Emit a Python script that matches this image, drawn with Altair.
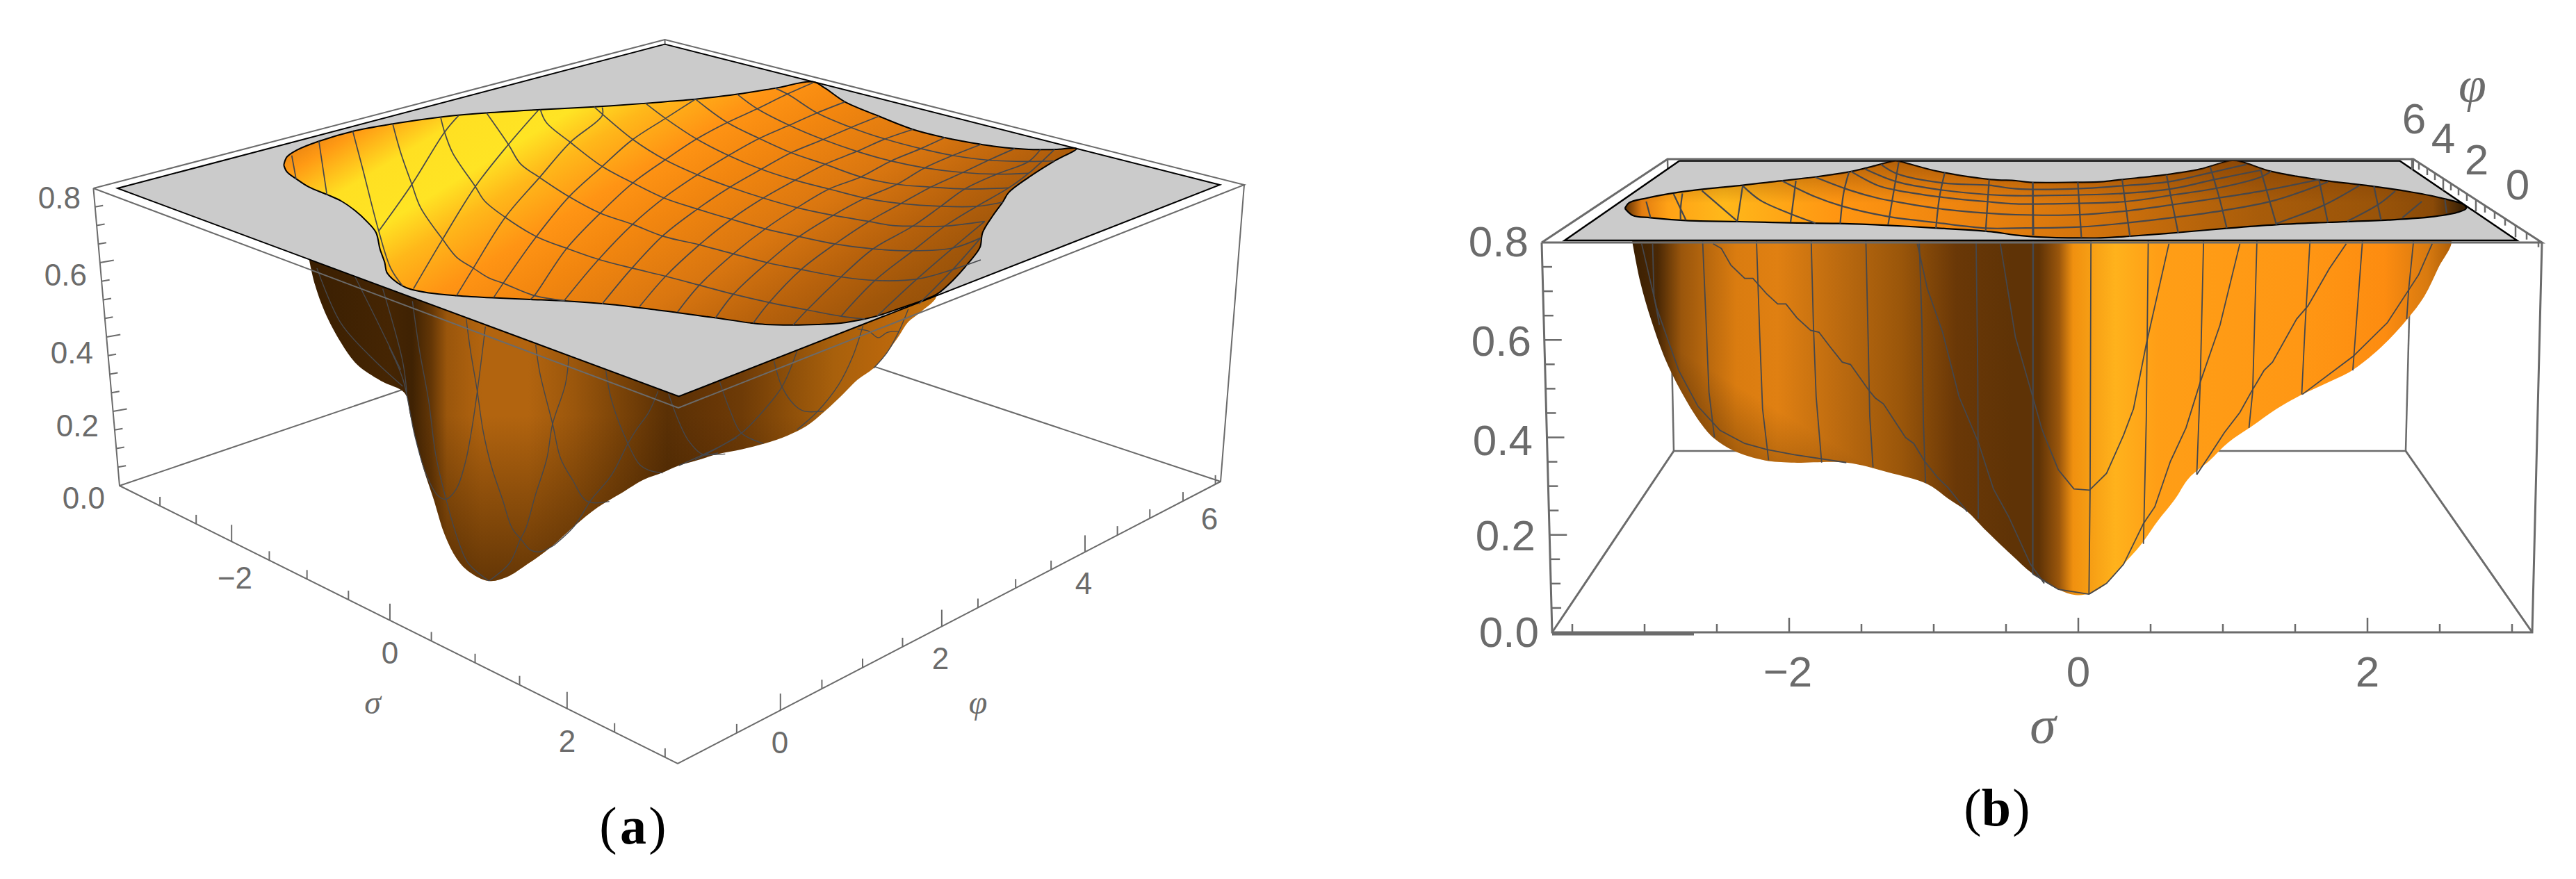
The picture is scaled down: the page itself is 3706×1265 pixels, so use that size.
import altair as alt
import pandas as pd

# crops in which the positions were read: (left, top, x-zoom, y-zoom)
def crop(x0, y0, kx, ky):
    return lambda pts: [(x0 + p[0] / kx, y0 + p[1] / ky) for p in pts]

A1 = crop(100, 30, 1.742, 2.529)
A2 = crop(900, 30, 1.742, 2.529)
C1 = crop(560, 420, 3, 3)
C2 = crop(1000, 370, 3, 3)
B4 = crop(2150, 130, 1.96, 3)
B5 = crop(2900, 130, 1.96, 3)
C3 = crop(2340, 330, 2.529, 2.904)
C4 = crop(2900, 330, 2.45, 2.904)

# ------------------------------ panel (a)
A_TOP = dict(back=(956.5, 57), left=(134.4, 271), right=(1790, 266), front=(976, 587))
A_BOT = dict(back=(964, 430), left=(172, 699), right=(1756, 693), front=(975, 1099))
A_PLANE = [(956.5, 63.6), (169, 271), (976.6, 570.5), (1755, 266), (956.5, 63.6)]

A_HOLE = (A1([(537,525),(545,495),(570,470),(625,438),(710,402),(810,375),(930,350),(1045,335),(1180,323),(1315,313),(1445,300)])
    + A2([(110,293),(175,285),(280,267),(375,245),(470,222),(500,245),(550,295),(635,347),(720,395),(800,425),(845,438),(930,458),(1010,468),(1075,468),(1130,465),(1075,510),(1010,570),(960,625),(945,660),(920,710),(895,770),(888,825),(860,880),(820,945),(780,995),(745,1017),(690,1045),(640,1070),(600,1085),(540,1100),(480,1105),(420,1107),(350,1105),(315,1100),(220,1080),(130,1062),(40,1045)])
    + A1([(1340,1030),(1245,1020),(1155,1014),(1060,1008),(970,1000),(900,990),(855,977),(835,965),(810,940),(795,915),(790,880),(778,830),(768,770),(745,730),(715,690),(680,655),(645,632),(600,605),(570,577),(545,550),(537,525)]))

A_BODY = (A1([(600,865),(615,960),(640,1060),(680,1170),(720,1250),(780,1310),(840,1355)])
    + C1([(90,530),(120,660),(150,770),(190,890),(240,1050),(290,1150),(340,1205),(430,1248),(510,1230),(590,1180),(700,1100),(800,1010),(900,930),(1000,870),(1100,810),(1180,780),(1250,750)])
    + C2([(0,880),(100,850),(200,830),(300,805),(400,770),(480,730),(560,665),(640,590),(700,530),(770,480),(830,410),(880,340),(920,280),(970,240),(1040,170)])
    + [(1330, 415), (1200, 460), (976, 540), (700, 440), (500, 360), (444, 372)])

A_MESH_UPPER = [
    A1([(557,490),(568,577)]),
    A1([(625,438),(645,632)]),
    A1([(710,402),(735,540),(775,765),(805,900),(835,965)]),
    A1([(810,375),(830,480),(858,595),(880,680),(935,795),(970,860),(1012,900),(1050,935),(1087,955),(1165,1000),(1240,1018)]),
    A1([(930,350),(940,405),(960,480),(1017,603),(1040,655),(1092,715),(1170,785),(1250,830),(1330,870),(1410,900),(1495,930)]) + A2([(185,962),(270,995),(360,1025),(455,1052),(540,1075),(600,1085)]),
    A1([(1045,335),(1100,450),(1130,520),(1178,570),(1252,640),(1330,700),(1410,740),(1490,785)]) + A2([(185,815),(270,848),(355,880),(440,905),(540,932),(625,945),(730,940),(820,905),(890,870)]),
    A1([(1180,323),(1195,370),(1255,442),(1335,530),(1412,590),(1490,645)]) + A2([(180,685),(265,722),(350,757),(435,785),(525,812),(620,830),(720,837),(820,827),(890,790)]),
    A1([(1315,313),(1415,435),(1492,505)]) + A2([(180,560),(262,605),(345,645),(430,680),(520,708),(610,730),(670,745),(720,747),(800,747),(900,730)]),
    A2([(50,300),(100,355),(178,430),(258,490),(340,540),(425,580),(510,612),(600,645),(690,665),(790,675),(880,675),(945,660)]),
    A2([(175,285),(255,370),(335,428),(415,480),(500,522),(590,568),(680,595),(765,605),(850,612),(960,608)]),
    A2([(280,267),(330,320),(410,380),(495,432),(580,475),(665,510),(750,535),(845,552),(930,558),(1010,555)]),
    A2([(375,245),(410,270),(480,335),(565,388),(650,430),(740,465),(820,490),(910,507),(1010,512),(1075,510)]),
    A1([(975,345),(940,405),(858,595),(775,765)]),
    A1([(1175,325),(1100,450),(1017,603),(935,795),(862,975)]),
    A1([(1335,315),(1335,345),(1255,442),(1178,570),(1092,715),(1012,900),(970,1000)]),
    A2([(175,285),(100,355),(15,435)]) + A1([(1335,530),(1252,640),(1170,785),(1087,955),(1063,1007)]),
    A2([(470,225),(400,270),(330,320),(255,370),(178,430),(100,505),(18,590)]) + A1([(1330,700),(1245,830),(1165,1000),(1155,1014)]),
    A2([(550,295),(480,335),(410,380),(335,428),(258,490),(180,560),(100,640),(18,740)]) + A1([(1325,870),(1240,1018)]),
    A2([(635,347),(565,388),(495,432),(415,480),(340,540),(262,605),(180,685),(95,780),(16,900)]) + A1([(1335,1030)]),
    A2([(720,395),(650,430),(580,475),(500,522),(425,580),(345,645),(265,722),(185,815),(100,930),(35,1040)]),
    A2([(800,425),(740,465),(665,510),(590,568),(510,612),(430,680),(350,757),(270,848),(185,962),(130,1060)]),
    A2([(890,450),(820,490),(750,535),(680,595),(600,645),(520,708),(435,785),(355,880),(270,995),(225,1082)]),
    A2([(975,465),(910,507),(845,552),(765,605),(690,665),(610,730),(525,812),(440,905),(360,1025),(320,1100)]),
    A2([(1040,468),(1010,512),(930,558),(850,612),(790,675),(720,747),(620,830),(540,932),(455,1052),(420,1107)]),
    A2([(1075,468),(1010,555),(960,608),(880,675),(800,747),(720,837),(625,945),(540,1075)]),
    A2([(900,730),(820,827),(730,940),(630,1075)]),
    A2([(890,790),(820,905),(735,1030)]),
]
A_MESH_LOWER = [
    A1([(620,900),(680,1100),(760,1230),(835,1330)]),
    A1([(715,930),(770,1090),(830,1270)]),
    A1([(785,975),(835,1240),(845,1350)]),
    C1([(100,40),(130,250),(170,470),(200,700),(245,895),(300,1080),(340,1170),(430,1248)]),
    C1([(0,240),(60,380),(110,620),(160,790),(210,880),(245,895),(290,850),(330,730),(355,600),(380,430),(415,150)]),
    C1([(332,115),(350,250),(380,430),(405,600),(440,750),(490,900),(530,1020),(570,1070),(610,1115),(650,1122),(710,1095)]),
    C1([(632,228),(650,350),(705,570),(740,720),(790,810),(855,905),(950,905)]),
    C1([(775,282),(760,400),(705,570),(680,720),(630,880),(590,1020),(565,1070),(520,1170),(430,1248)]),
    C1([(935,340),(960,470),(1030,655),(1080,745),(1120,770),(1180,782)]),
    C1([(1160,430),(1120,520),(1070,590),(1030,655),(960,790),(870,900),(800,1010),(710,1095)]),
    C1([(1205,440),(1250,560),(1290,640),(1350,700),(1420,695)]),
    C1([(1500,630),(1350,705),(1250,750)]),
    C2([(105,535),(150,660),(200,760),(295,805)]),
    C2([(440,405),(375,560),(280,680),(200,760),(40,855),(0,875)]),
    C2([(340,445),(375,560),(430,640),(470,665),(555,665)]),
    C2([(725,295),(680,430),(620,550),(525,670),(440,745)]),
    C2([(700,310),(750,320),(790,348),(830,325),(880,320)]),
    C2([(920,225),(880,320),(830,410),(770,480)]),
    C2([(40,855),(130,850)]),
]

A_Z_VALUES = [0, .05, .1, .15, .2, .25, .3, .35, .4, .45, .5, .55, .6, .65, .7, .75, .8]
A_SIGMA_TICK_PX = [120, 168, 215, 265, 315, 370, 425, 480, 538, 597, 660, 723, 790]
A_SIGMA_MAJOR = [215, 425, 660]
A_PHI_TICK_PX = [885, 943, 998, 1052, 1105, 1157, 1205, 1255, 1302, 1347, 1390, 1433, 1477, 1520]
A_PHI_MAJOR = [943, 1157, 1347]

# ------------------------------ panel (b)
B_TOP = dict(back_l=(2399, 229), back_r=(3472, 229), front_l=(2218, 349), front_r=(3657, 349))
B_BOT = dict(back_l=(2408, 649), back_r=(3461, 649), front_l=(2233, 910), front_r=(3643, 910))
B_PLANE = [(2416, 231.5), (2251, 346), (3621, 346), (3452.5, 231.5), (2416, 231.5)]

B_HOLE = (B4([(368,510),(380,485),(430,465),(520,440),(600,425),(700,410),(800,392),(900,375),(1000,352),(1050,335),(1130,305),(1145,308),(1250,350),(1400,385)])
    + B5([(0,390),(40,397),(170,397),(240,395),(300,385),(420,365),(520,340),(610,303),(640,310),(720,350),(850,385),(1000,413),(1100,435),(1200,465),(1265,495),(1270,510),(1250,525),(1180,545),(1050,560),(880,570),(735,580),(600,595),(450,615),(320,630),(240,637),(160,637),(90,635),(0,625)])
    + B4([(1400,610),(1250,595),(1110,583),(970,575),(830,572),(690,567),(540,562),(440,550),(390,540),(368,510)]))

B_SIL_LEFT = (C3([(20,45),(50,220),(90,380),(140,540),(200,680),(270,810),(320,875),(390,925),(500,965),(600,975),(800,975),(950,1015),(1095,1065),(1170,1125),(1240,1180),(1300,1250),(1400,1360)])
    + C4([(60,1440),(150,1505)]))
B_SIL_RIGHT = C4([(210,1528),(260,1522),(320,1480),(380,1400),(440,1320),(500,1220),(560,1130),(610,1040),(680,970),(750,890),(830,825),(920,750),(1010,690),(1100,640),(1185,590),(1290,490),(1380,375),(1440,280),(1490,160),(1535,45)])
B_BODY = B_SIL_LEFT + B_SIL_RIGHT + [(3500, 330), (2900, 330), (2360, 330), B_SIL_LEFT[0]]

B_MESH_UPPER = [
    B4([(428,480),(440,550)]), B4([(530,445),(525,510),(525,560)]), B4([(505,447),(540,560)]),
    B4([(585,433),(685,565)]), B4([(700,412),(685,565)]), B4([(850,390),(835,570)]),
    B4([(1000,352),(985,440),(975,575)]), B4([(1140,310),(1130,400),(1110,580)]),
    B4([(1270,355),(1255,460),(1245,595)]), B4([(1395,385),(1385,610)]), B4([(1518,398),(1518,625)]),
    B5([(48,397),(50,625)]), B5([(175,397),(185,635)]), B5([(300,385),(322,632)]), B5([(425,365),(458,615)]),
    B5([(548,330),(575,470),(595,595)]), B5([(690,340),(735,580)]), B5([(855,385),(880,570)]),
    B5([(1010,415),(1030,560)]), B5([(1210,470),(1215,530)]),
    B4([(700,412),(750,475),(830,530),(905,573)]),
    B4([(810,390),(905,460),(980,500),(1110,545),(1240,570),(1385,595)]) + B5([(0,595),(180,590),(315,572),(450,548),(580,520),(730,475),(880,395)]),
    B4([(905,375),(1000,430),(1080,465),(1130,480),(1250,510),(1385,530)]) + B5([(0,537),(180,537),(315,520),(450,492),(570,465),(710,430),(855,385)]),
    B4([(1005,350),(1080,410),(1130,430),(1255,460),(1385,480)]) + B5([(0,490),(100,490),(310,480),(450,450),(575,420),(690,375),(720,350)]),
    B4([(1045,340),(1135,395),(1260,430),(1390,450)]) + B5([(0,455),(50,455),(300,445),(440,425),(560,385),(690,345)]),
    B4([(1090,320),(1135,360),(1265,400),(1395,410)]) + B5([(0,425),(170,425),(300,412),(430,395),(550,355),(650,320)]),
    B5([(735,575),(870,495),(970,410)]), B5([(935,565),(1025,490),(1070,435)]), B5([(1090,550),(1145,480)]),
]
B_MESH_LOWER = [
    C3([(277,50),(290,400),(300,680),(320,870)]),
    C3([(473,50),(485,450),(495,750),(517,965)]),
    C3([(672,50),(680,400),(690,700),(710,975)]),
    C3([(871,50),(880,500),(885,780),(897,995)]),
    C3([(1065,50),(1075,400),(1080,800),(1088,1060)]),
    C3([(1272,50),(1278,600),(1280,1210)]),
    C3([(1478,50),(1478,800),(1478,1440)]),
    C3([(315,60),(345,80),(380,150),(430,205),(460,205),(510,270),(550,312),(580,312),(620,370),(670,422),(700,430),(740,490),(785,555),(815,565),(880,670),(905,705),(935,730),(1015,870),(1045,895),(1085,970),(1130,1035),(1170,1080),(1240,1180)]),
    C3([(55,60),(110,330),(190,590),(260,740),(340,840),(430,895),(510,920),(610,942),(800,975)]),
    C3([(95,60),(100,280),(120,400)]),
    C3([(1058,60),(1095,250),(1150,430),(1210,700),(1280,890),(1335,1085),(1390,1200),(1470,1400),(1520,1480)]),
    C3([(1360,60),(1415,450),(1478,700),(1510,830)]) + C4([(100,860),(150,1005),(205,1085),(260,1090),(320,1020),(380,860),(415,750),(460,480),(540,60)]),
    C4([(62,50),(60,1440)]), C4([(265,50),(262,1090),(258,1525)]), C4([(467,50),(460,800),(450,1315)]),
    C4([(662,50),(650,650),(638,1025)]), C4([(850,50),(835,680),(822,830)]), C4([(1037,50),(1020,400),(1008,690)]),
    C4([(1222,50),(1200,400),(1188,590)]), C4([(1402,50),(1385,250),(1378,375)]),
    C4([(790,60),(720,400),(650,640),(600,830),(545,970),(490,1160),(450,1230),(380,1400),(320,1480),(258,1525)]),
    C4([(1165,60),(1105,165),(1030,320),(990,375),(905,555),(875,590),(830,680),(790,765),(735,850),(680,950),(638,1025)]),
    C4([(1468,60),(1420,190),(1310,390),(1190,530),(1010,690)]),
    C4([(60,1440),(150,1505),(258,1525)]),
]

B_Z_VALUES = A_Z_VALUES
B_SIGMA_VALUES = [-3.5, -3, -2.5, -2, -1.5, -1, -.5, 0, .5, 1, 1.5, 2, 2.5, 3]
B_SIGMA_MAJOR = [-2, 0, 2]
B_PHI_TICK_X = [3470, 3480, 3492, 3503, 3515, 3526, 3537, 3549, 3562, 3575, 3589, 3604, 3619, 3635, 3652]
B_PHI_MAJOR = [3470, 3515, 3562, 3619]

GREY = "#6b6b6b"
MESH = "#45474c"

X = alt.X("x:Q", scale=alt.Scale(domain=[8, 3698], nice=False, zero=False), axis=None)
Y = alt.Y("y:Q", scale=alt.Scale(domain=[1257, 8], nice=False, zero=False), axis=None)


def gradient(stops, x1=0, y1=0, x2=1, y2=0):
    return alt.Gradient(gradient="linear", x1=x1, y1=y1, x2=x2, y2=y2,
                        stops=[alt.GradientStop(color=c, offset=o) for o, c in stops])


def hstops(pts, stops):
    lo = min(p[0] for p in pts)
    hi = max(p[0] for p in pts)
    return [(min(1, max(0, (px - lo) / (hi - lo))), c) for px, c in stops]


def frame(pts):
    return pd.DataFrame({"x": [p[0] for p in pts], "y": [p[1] for p in pts], "i": range(len(pts))})


def shape(pts, fill, stroke="transparent", sw=0, interp="linear"):
    return alt.Chart(frame(pts)).mark_line(fill=fill, stroke=stroke, strokeWidth=sw, interpolate=interp).encode(
        x=X, y=Y, order="i:Q")


def lines(series, color, sw, interp="linear", opacity=1):
    rows = [dict(x=p[0], y=p[1], i=k, s=n) for n, pts in enumerate(series) for k, p in enumerate(pts)]
    return alt.Chart(pd.DataFrame(rows)).mark_line(color=color, strokeWidth=sw, interpolate=interp, opacity=opacity).encode(
        x=X, y=Y, order="i:Q", detail="s:N")


def labels(texts, xs, ys, size, font="Liberation Sans", style="normal", weight="normal", color=GREY, align="center"):
    df = pd.DataFrame({"x": xs, "y": ys, "t": texts})
    return alt.Chart(df).mark_text(fontSize=size, font=font, fontStyle=style, fontWeight=weight, color=color,
                                   align=align, baseline="middle").encode(x=X, y=Y, text="t:N")


def along(p, q, f):
    return (p[0] + (q[0] - p[0]) * f, p[1] + (q[1] - p[1]) * f)


def on_edge_x(p, q, x):
    return along(p, q, (x - p[0]) / (q[0] - p[0]))


def seg(p, dx, dy):
    return [p, (p[0] + dx, p[1] + dy)]


# ---- panel (a) pieces
a_edges_back = [[A_BOT["left"], A_BOT["back"]], [A_BOT["right"], A_BOT["back"]], [A_TOP["back"], A_BOT["back"]]]
a_edges_front = [[A_TOP["left"], A_TOP["back"], A_TOP["right"], A_TOP["front"], A_TOP["left"]],
                 [A_TOP["left"], A_BOT["left"], A_BOT["front"], A_BOT["right"], A_TOP["right"]]]
a_ticks = []
for v in A_Z_VALUES[1:-1]:
    major = round(v * 100) % 20 == 0
    a_ticks.append(seg(along(A_BOT["left"], A_TOP["left"], v / .8), 20 if major else 11.5, -3.5 if major else -2))
for px in A_SIGMA_TICK_PX:
    a_ticks.append(seg(on_edge_x(A_BOT["left"], A_BOT["front"], 100 + px / .922), 0, -24 if px in A_SIGMA_MAJOR else -13))
for px in A_PHI_TICK_PX:
    a_ticks.append(seg(on_edge_x(A_BOT["front"], A_BOT["right"], 100 + px / .922), 0, -24 if px in A_PHI_MAJOR else -13))

a_body_fill = gradient(hstops(A_BODY, [(444, "#3a1f02"), (560, "#452503"), (593, "#3f2203"), (620, "#633606"), (643, "#9a560c"), (693, "#b2640f"),
                                       (760, "#b2640f"), (827, "#9a560c"), (893, "#7a4308"), (960, "#5a3005"), (1027, "#673606"),
                                       (1067, "#6e3b07"), (1133, "#8c4e09"), (1200, "#a8600c"), (1267, "#b8660c"), (1345, "#c4720f")]))
a_body_shade = gradient([(0, "rgba(50,25,0,0)"), (.5, "rgba(50,25,0,0)"), (1, "rgba(50,25,0,0.6)")], 0, 0, 0, 1)
a_hole_fill = gradient([(.04, "#a85a0a"), (.08, "#e07a10"), (.13, "#ff9a14"), (.20, "#ffe022"), (.28, "#ffe424"), (.34, "#ffb81a"),
                        (.42, "#ff9414"), (.50, "#f2860f"), (.62, "#d97610"), (.72, "#b8620c"), (.80, "#a0560a"), (1, "#7a4206")],
                       0, 0, 1.2, .606)

# ---- panel (b) pieces
b_edges_back = [[B_BOT["back_l"], B_BOT["back_r"]], [B_TOP["back_l"], B_BOT["back_l"]], [B_TOP["back_r"], B_BOT["back_r"]]]
b_edges_front = [[B_TOP["front_l"], B_TOP["back_l"], B_TOP["back_r"], B_TOP["front_r"], B_TOP["front_l"]],
                 [B_TOP["front_l"], B_BOT["front_l"], B_BOT["front_r"], B_TOP["front_r"]],
                 [B_BOT["front_l"], B_BOT["back_l"]], [B_BOT["front_r"], B_BOT["back_r"]]]
b_ticks = []
for v in B_Z_VALUES[1:-1]:
    major = round(v * 100) % 20 == 0
    b_ticks.append(seg(along(B_BOT["front_l"], B_TOP["front_l"], v / .8), 25 if major else 14, 0))
for v in B_SIGMA_VALUES:
    b_ticks.append(seg((2990 + 208 * v, 910), 0, -21 if v in B_SIGMA_MAJOR else -12))
for tx in B_PHI_TICK_X:
    b_ticks.append(seg(on_edge_x(B_TOP["back_r"], B_TOP["front_r"], tx), 0, 17 if tx in B_PHI_MAJOR else 10))

b_body_fill = gradient(hstops(B_BODY, [(2348, "#3a1f02"), (2385, "#4a2805"), (2419, "#9a560c"), (2498, "#da7c10"), (2557, "#e08012"),
                                       (2656, "#b8680f"), (2735, "#9a560a"), (2814, "#6a3807"), (2894, "#5f3306"), (2933, "#5f3306"), (2962, "#9a560c"),
                                       (2982, "#f0900f"), (3043, "#ffb21c"), (3104, "#ff9e16"), (3308, "#ff9714"), (3430, "#fd8c10"), (3492, "#d87a10"), (3525, "#b06008")]))
b_body_shade = gradient([(0, "rgba(45,22,0,0)"), (1, "rgba(45,22,0,0.85)")], .3, .666, .044, .858)
b_hole_fill = gradient(hstops(B_HOLE, [(2338, "#5a3005"), (2362, "#e27c10"), (2400, "#ffa216"), (2480, "#ffb81a"), (2640, "#ff9612"),
                                       (2800, "#f0860f"), (3000, "#d4740c"), (3250, "#a85c0a"), (3420, "#9a5409"), (3500, "#8a4a08"), (3540, "#3f2406"), (3548, "#3a2005")]))
b_hole_shade = gradient([(0, "rgba(110,50,0,0.5)"), (.55, "rgba(110,50,0,0)"), (1, "rgba(110,50,0,0)")], 0, 0, 0, 1)

layers = [
    lines(a_edges_back, GREY, 2),
    lines(b_edges_back, GREY, 2.5),
    shape(A_BODY, a_body_fill, interp="catmull-rom"),
    shape(A_BODY, a_body_shade, interp="catmull-rom"),
    shape(B_BODY, b_body_fill, interp="catmull-rom"),
    shape(B_BODY, b_body_shade, interp="catmull-rom"),
    lines(A_MESH_LOWER, MESH, 1.4, "catmull-rom"),
    lines(B_MESH_LOWER, MESH, 1.8, "linear"),
    shape(A_PLANE, "#cbcbcb", "#000000", 2),
    shape(B_PLANE, "#cbcbcb", "#000000", 2.5),
    shape(A_HOLE, a_hole_fill, "#000000", 2, "catmull-rom"),
    shape(B_HOLE, b_hole_fill, "#000000", 2.2, "catmull-rom"),
    shape(B_HOLE, b_hole_shade, interp="catmull-rom"),
    lines(A_MESH_UPPER, MESH, 1.7, "catmull-rom"),
    lines(B_MESH_UPPER, MESH, 2.2, "catmull-rom"),
    lines(a_edges_front, GREY, 2),
    lines(b_edges_front, GREY, 3),
    lines(a_ticks, GREY, 2),
    lines(b_ticks, GREY, 2.5),
    lines([[(2233, 912), (2437, 912)]], GREY, 5),
    labels(["0.8", "0.6", "0.4", "0.2", "0.0"], [116, 125, 134, 142, 151], [287, 398, 510, 615, 719], 44, align="right"),
    labels(["−2", "0", "2"], [338, 561, 816], [834, 942, 1069], 44),
    labels(["0", "2", "4", "6"], [1122, 1353, 1559, 1740], [1071, 950, 842, 749], 44),
    labels(["σ"], [536], [1013], 48, font="Liberation Serif", style="italic"),
    labels(["φ"], [1407], [1013], 48, font="Liberation Serif", style="italic"),
    labels(["0.8", "0.6", "0.4", "0.2", "0.0"], [2199, 2203, 2205, 2209, 2214], [350, 493, 636, 773, 912], 62, align="right"),
    labels(["−2", "0", "2"], [2572, 2990, 3406], [969, 969, 969], 62),
    labels(["6", "4", "2", "0"], [3473, 3515, 3563, 3622], [173, 201, 232, 268], 62),
    labels(["σ"], [2939], [1046], 76, font="Liberation Serif", style="italic"),
    labels(["φ"], [3557], [124], 72, font="Liberation Serif", style="italic"),
    labels(["(", ")"], [875, 946], [1191, 1191], 76, font="Liberation Serif", color="#000000"),
    labels(["a"], [911], [1191], 76, font="Liberation Serif", weight="bold", color="#000000"),
    labels(["(", ")"], [2838, 2908], [1165, 1165], 76, font="Liberation Serif", color="#000000"),
    labels(["b"], [2872], [1165], 76, font="Liberation Serif", weight="bold", color="#000000"),
]

chart = alt.layer(*layers).properties(width=3690, height=1249, padding=0,
                                      autosize=alt.AutoSizeParams(type="none")).configure_view(stroke=None)
chart.save("out.html", embed_options={"renderer": "svg", "actions": False})
